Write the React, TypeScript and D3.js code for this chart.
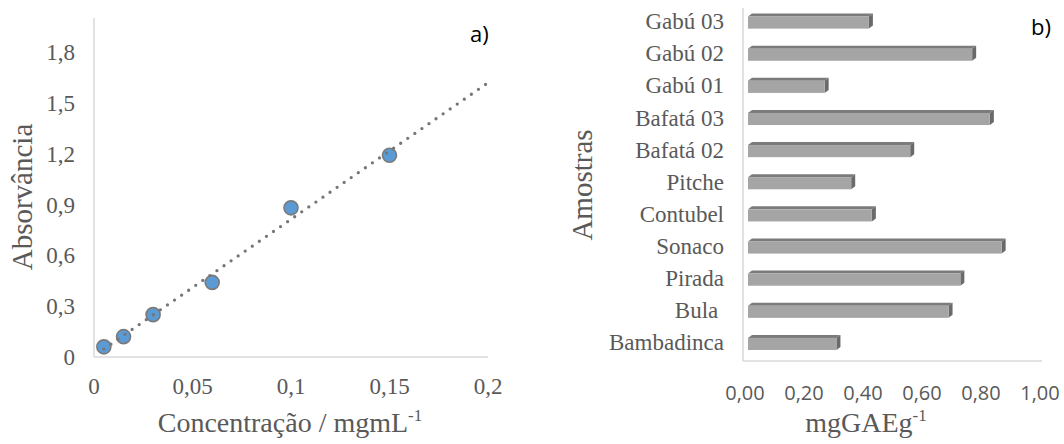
import React from "react";
import * as d3 from "d3";

// a) calibration curve
const concentracao = [0.005, 0.015, 0.03, 0.06, 0.1, 0.15];
const absorvancia = [0.06, 0.12, 0.25, 0.44, 0.88, 1.19];
const xTicksA = [0, 0.05, 0.1, 0.15, 0.2];
const yTicksA = [0, 0.3, 0.6, 0.9, 1.2, 1.5, 1.8];

// b) phenolic content per sample (bottom to top)
const amostras = [
  "Bambadinca",
  "Bula ",
  "Pirada",
  "Sonaco",
  "Contubel",
  "Pitche",
  "Bafatá 02",
  "Bafatá 03",
  "Gabú 01",
  "Gabú 02",
  "Gabú 03",
];
const mgGAE = [0.31, 0.69, 0.73, 0.87, 0.43, 0.36, 0.56, 0.83, 0.27, 0.77, 0.42];
const xTicksB = [0, 0.2, 0.4, 0.6, 0.8, 1.0];

const serif = "'Liberation Serif', 'Times New Roman', serif";
const sans = "'Open Sans', 'Liberation Sans', sans-serif";
const grey = "#595959";
const axisCol = "#d9d9d9";

const comma = (v: number, digits?: number) =>
  (digits === undefined ? String(+v.toFixed(3)) : v.toFixed(digits)).replace(".", ",");

function ChartA() {
  const x = d3.scaleLinear().domain([0, 0.2]).range([94, 488]);
  const y = d3.scaleLinear().domain([0, 2.0]).range([357, 18]);

  // linear trendline (least squares)
  const mx = d3.mean(concentracao)!;
  const my = d3.mean(absorvancia)!;
  let sxy = 0;
  let sxx = 0;
  concentracao.forEach((c, i) => {
    sxy += (c - mx) * (absorvancia[i] - my);
    sxx += (c - mx) * (c - mx);
  });
  const slope = sxy / sxx;
  const icpt = my - slope * mx;
  const x0 = d3.min(concentracao)!;
  const trend = d3
    .line<number>()
    .x((d) => x(d))
    .y((d) => y(slope * d + icpt))([x0, 0.2]);

  return (
    <g>
      <line x1={x(0)} x2={x(0)} y1={18} y2={y(0)} stroke={axisCol} strokeWidth={1.5} />
      <line x1={x(0)} x2={x(0.2)} y1={y(0)} y2={y(0)} stroke={axisCol} strokeWidth={1.5} />
      {yTicksA.map((t) => (
        <text key={t} x={75} y={y(t)} dy="0.35em" textAnchor="end" fontFamily={serif} fontSize={23} fill={grey}>
          {comma(t)}
        </text>
      ))}
      {xTicksA.map((t) => (
        <text key={t} x={x(t)} y={394} textAnchor="middle" fontFamily={serif} fontSize={23} fill={grey}>
          {comma(t)}
        </text>
      ))}
      {concentracao.map((c, i) => (
        <circle key={i} cx={x(c)} cy={y(absorvancia[i])} r={7} fill="#5b9bd5" stroke="#7a7a7a" strokeWidth={1.6} />
      ))}
      <path d={trend!} fill="none" stroke="#767676" strokeWidth={3.3} strokeLinecap="round" strokeDasharray="0 8.6" />
      <text
        transform="translate(32,197) rotate(-90)"
        textAnchor="middle"
        fontFamily={serif}
        fontSize={29}
        fill={grey}
      >
        Absorvância
      </text>
      <text x={290} y={432} textAnchor="middle" fontFamily={serif} fontSize={28} fill={grey}>
        Concentração / mgmL<tspan dy={-11} fontSize={17}>-1</tspan>
      </text>
      <text x={470} y={42} fontFamily={sans} fontSize={22} fill="#000">
        a)
      </text>
    </g>
  );
}

function ChartB() {
  const x = d3.scaleLinear().domain([0, 1]).range([745, 1040]);
  const y = d3.scaleBand<string>().domain([...amostras].reverse()).range([5, 358.5]).paddingInner(0.53).paddingOuter(0.265);
  const dx = 4;
  const dy = 3;
  const bh = y.bandwidth() - dy;

  return (
    <g>
      <line x1={743} x2={743} y1={8} y2={361} stroke={axisCol} strokeWidth={1.5} />
      <line x1={743} x2={1042} y1={361} y2={361} stroke={axisCol} strokeWidth={1.5} />
      {amostras.map((a, i) => {
        const x0 = x(0) + 3;
        const x1 = x(mgGAE[i]);
        const top = y(a)! + dy;
        const bot = top + bh;
        return (
          <g key={a}>
            <polygon
              points={`${x0},${top} ${x0 + dx},${top - dy} ${x1 + dx},${top - dy} ${x1},${top}`}
              fill="#7b7b7b"
            />
            <polygon
              points={`${x1},${top} ${x1 + dx},${top - dy} ${x1 + dx},${bot - dy} ${x1},${bot}`}
              fill="#6a6a6a"
            />
            <rect x={x0} y={top} width={x1 - x0} height={bh} fill="#a5a5a5" />
            <text
              x={724}
              y={y(a)! + y.bandwidth() / 2}
              dy="0.35em"
              textAnchor="end"
              fontFamily={serif}
              fontSize={23}
              fill={grey}
              style={{ whiteSpace: "pre" }}
            >
              {a}
            </text>
          </g>
        );
      })}
      {xTicksB.map((t) => (
        <text key={t} x={x(t)} y={400} textAnchor="middle" fontFamily={sans} fontSize={20} fill={grey}>
          {comma(t, 2)}
        </text>
      ))}
      <text
        transform="translate(592,185) rotate(-90)"
        textAnchor="middle"
        fontFamily={serif}
        fontSize={29}
        fill={grey}
      >
        Amostras
      </text>
      <text x={866} y={432} textAnchor="middle" fontFamily={serif} fontSize={28} fill={grey}>
        mgGAEg<tspan dy={-11} fontSize={17}>-1</tspan>
      </text>
      <text x={1031} y={35} fontFamily={sans} fontSize={22} fill="#000">
        b)
      </text>
    </g>
  );
}

export default function App() {
  return (
    <svg
      width={1064}
      height={444}
      style={{ position: "absolute", left: 0, top: 0, background: "#fff" }}
    >
      <ChartA />
      <ChartB />
    </svg>
  );
}
